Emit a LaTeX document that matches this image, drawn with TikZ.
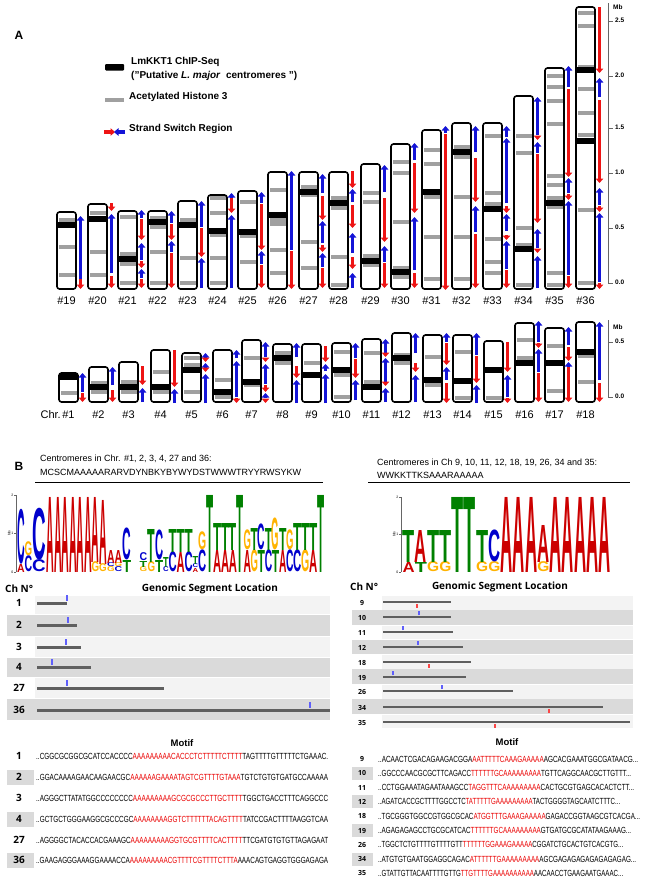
\documentclass[tikz,border=0pt]{standalone}
\usepackage{fontspec}
\setmainfont{Liberation Sans}
\newfontfamily\tabfont{Open Sans}
\usepackage{graphicx}
\usetikzlibrary{arrows.meta}
\definecolor{cA}{RGB}{204,0,0}
\definecolor{cC}{RGB}{0,0,204}
\definecolor{cG}{RGB}{255,179,0}
\definecolor{cT}{RGB}{0,128,0}
\definecolor{ssr}{RGB}{238,20,20}
\definecolor{ssb}{RGB}{20,20,215}
\definecolor{band}{RGB}{160,160,160}
\definecolor{rowlight}{RGB}{243,243,243}
\definecolor{rowdark}{RGB}{218,218,218}
\definecolor{bargray}{RGB}{95,95,95}
\definecolor{seqred}{RGB}{235,0,0}
\definecolor{tickblue}{RGB}{95,95,250}
\definecolor{tickred}{RGB}{250,70,70}

\newcommand{\chromo}[8]{%
  \fill[white,rounded corners=2.5pt] (#1,#2) rectangle (#1+19,#3);
  \foreach \gy in {#4} {\fill[band] (#1+1.5,\gy-1.6) rectangle (#1+17.5,\gy+1.6);}
  \foreach \ky in {#5} {\fill[black] (#1+1,\ky-2.6) rectangle (#1+18,\ky+2.6);}
  \draw[chrbox] (#1,#2) rectangle (#1+19,#3);
  \foreach \scol/\stail/\shead in {#6} {\draw[ssarrow,draw=ss\scol] (#1+23.5,\stail) -- (#1+23.5,\shead);}
  \node[chrlab] (chr#7) at (#1+9.5,#8) {\##7};
}
\newcommand{\lcol}[4]{%
  \xdef\ycur{#3}%
  \pgfmathsetmacro\lwid{#2+0.6}%
  \foreach \lL/\lC/\lH in {#4}{%
    \node[inner sep=0pt,outer sep=0pt,anchor=south west,text=\lC] at (#1-0.3,\ycur) {\resizebox*{\lwid pt}{\lH pt}{\bfseries \lL}};%
    \pgfmathsetmacro\ynew{\ycur-\lH}\xdef\ycur{\ynew}%
  }}
\newcommand{\seqrow}[6]{\node[inner sep=0pt,anchor=west] (#6) at (#1) {\resizebox{#2pt}{6.2pt}{#3\textcolor{seqred}{#4}#5}};}

\begin{document}
\begin{tikzpicture}[x=1pt,y=-1pt,
  chrbox/.style={draw=black,line width=1.6pt,rounded corners=2.5pt},
  ssarrow/.style={line width=3.2pt,-{Triangle[width=7.5pt,length=4.5pt]}},
  chrlab/.style={inner sep=0pt,font=\fontsize{11}{13}\selectfont},
  axl/.style={inner sep=0pt,anchor=west,font=\bfseries\fontsize{6.5}{8}\selectfont},
  axisln/.style={draw=black!60,line width=0.8pt},
  legtxt/.style={inner sep=0pt,anchor=west,font=\bfseries\fontsize{10}{12}\selectfont},
  captxt/.style={inner sep=0pt,anchor=west,font=\fontsize{9}{11}\selectfont},
  hdr/.style={inner sep=0pt,font=\tabfont\bfseries\fontsize{10}{12}\selectfont},
  tabnum/.style={inner sep=0pt,font=\tabfont\bfseries\fontsize{10}{12}\selectfont},
  tabnums/.style={inner sep=0pt,font=\tabfont\bfseries\fontsize{7}{8}\selectfont},
  segbar/.style={draw=bargray,line width=3pt},
  segbars/.style={draw=bargray,line width=2.2pt},
  tickln/.style={line width=1.2pt},
  tinytxt/.style={inner sep=0pt,font=\fontsize{3.5}{4}\selectfont}]
\useasboundingbox (0,0) rectangle (649,886);
\fill[white] (0,0) rectangle (649,886);

% ---------- Panel A ----------
\node[inner sep=0pt,font=\bfseries\fontsize{12}{14}\selectfont] (pA) at (19,35) {A};
\fill[black,rounded corners=1pt] (105,64) rectangle (124,70.5);
\node[legtxt] (l1) at (131,62) {LmKKT1 ChIP-Seq};
\node[legtxt] (l2) at (131,76) {(\char34 Putative \textit{L. major}\ \ centromeres \char34)};
\fill[band] (105,98) rectangle (124,102);
\node[legtxt] (l3) at (129,97) {Acetylated Histone 3};
\draw[ssarrow,draw=ssr] (104,132) -- (115,132);
\draw[ssarrow,draw=ssb] (125,132) -- (114,132);
\node[legtxt] (l4) at (129,129) {Strand Switch Region};

% top row chromosomes
\chromo{57}{212}{289}{220,247,275}{225}{b/279/216,r/279/289}{19}{301}
\chromo{88}{204}{289}{213,252,275}{219}{r/203/211,b/273/214,r/276/288}{20}{301}
\chromo{118}{211}{289}{217,254,264,283}{259}{b/218/210,r/219/240,b/260/243,r/261/268,b/278/269,r/279/288}{21}{301}
\chromo{148}{211}{289}{218,227,252,283}{222}{b/223/211,r/224/240,b/252/241,r/253/288}{22}{301}
\chromo{178}{201}{289}{220,258,283}{225}{b/227/201,r/228/257,b/288/258}{23}{301}
\chromo{208}{195}{289}{198,213,235,258,283}{231}{b/197/193,r/198/213,b/288/215}{24}{301}
\chromo{238}{191}{289}{202,236,262}{232}{b/203/192,r/204/250,b/264/251,r/265/288}{25}{301}
\chromo{268}{172}{289}{190,220,224,250,273}{215}{b/250/171,r/251/289}{26}{301}
\chromo{299}{172}{289}{187,195,242,268}{192}{b/193/174,r/196/220,b/243/221,r/245/252,b/267/253,r/268/288}{27}{301}
\chromo{329}{172}{289}{198,208,257,285}{203}{r/171/188,b/202/189,r/205/228,b/253/233,r/257/269,b/288/273}{28}{301}
\chromo{361}{164}{289}{193,202,256,265}{261}{b/192/165,r/198/242,b/262/246,r/263/288}{29}{301}
\chromo{391}{144}{289}{162,173,222,268,277}{272}{b/160/143,r/163/213,b/270/217,r/273/288}{30}{301}
\chromo{422}{130}{289}{150,164,197,237,279}{192}{b/133/126,r/134/290}{31}{301}
\chromo{452}{123}{289}{147,157,197,237,279}{152}{b/152/126,r/158/202,b/232/206,r/234/288}{32}{301}
\chromo{483}{123}{289}{136,193,204,239,262,273}{209}{b/137/126,b/203/138,r/206/213,b/231/214,r/235/240,b/269/241,r/270/288}{33}{301}
\chromo{514}{96}{289}{136,153,228,245,285}{249}{b/135/97,r/137/140,b/153/142,r/154/223,b/248/229,r/249/253,b/288/256}{34}{301}
\chromo{545}{68}{289}{76,87,101,124,176,185,198,207,273,285}{203}{b/87/66,r/89/177,b/193/178,r/194/200,b/275/201,r/276/288}{35}{301}
\chromo{576}{7}{289}{13,26,67,89,113,135,210,283}{70,141}{r/7/73,b/97/78,r/100/183,b/205/188,r/206/212,b/282/213,r/283/289}{36}{301}

% top axis
\draw[axisln] (608,3) -- (608,283);
\foreach \ty/\tl in {283/0.0,228/0.5,173/1.0,128/1.5,76/2.0,21/2.5} {
  \draw[axisln] (608,\ty) -- (613,\ty);
  \node[axl] at (615,\ty-1) {\tl};
}
\node[axl] (mb1) at (613,7) {Mb};

% bottom row chromosomes
\chromo{59}{373}{402}{393}{377}{b/392/373,r/393/402}{1}{415}
\chromo{89}{367}{402}{383,392}{387}{b/385/367,r/390/402}{2}{415}
\chromo{119}{362}{402}{382,392}{387}{r/366/385,b/402/388}{3}{415}
\chromo{151}{350}{402}{372,392}{387}{r/350/387,b/403/389}{4}{415}
\chromo{182}{353}{402}{358,365,392}{370}{b/357/353,r/358/362,b/367/363,r/368/372,b/403/374}{5}{415}
\chromo{213}{350}{402}{380,397}{392}{b/358/350,b/397/361,r/398/403}{6}{415}
\chromo{242}{340}{402}{358,385}{382}{b/357/342,r/358/362,b/384/364,r/385/392,b/398/393,r/399/403}{7}{415}
\chromo{273}{344}{402}{353,363}{358}{b/357/343,r/366/378,b/403/380}{8}{415}
\chromo{302}{344}{402}{363}{375}{r/346/362,b/371/364,b/403/374}{9}{415}
\chromo{332}{343}{402}{352,375,397}{370}{b/358/343,r/359/378,b/400/380}{10}{415}
\chromo{362}{339}{402}{353,382}{387}{b/353/339,r/354/357,b/382/358,r/383/386,b/402/388}{11}{415}
\chromo{392}{333}{402}{355,363}{358}{b/353/333,r/363/372,b/402/375}{12}{415}
\chromo{423}{335}{402}{357,385}{380}{b/342/333,r/343/365,b/380/367,r/383/403}{13}{415}
\chromo{453}{335}{402}{352,398}{381}{b/355/333,r/356/383,b/403/385}{14}{415}
\chromo{484}{341}{402}{398}{370}{r/342/372,b/397/375,r/398/403}{15}{415}
\chromo{515}{323}{402}{340,358}{363}{b/342/321,r/343/348,b/372/349,r/373/402}{16}{415}
\chromo{545}{328}{402}{346,391}{363}{b/345/327,r/347/361,b/366/362,r/367/402}{17}{415}
\chromo{576}{322}{402}{356,382}{352}{b/380/322,r/383/402}{18}{415}
\node[chrlab,anchor=east] (chrtxt) at (61,415) {Chr.};

% bottom axis
\draw[axisln] (608,320) -- (608,397);
\foreach \ty/\tl in {397/0.0,342/0.5} {
  \draw[axisln] (608,\ty) -- (613,\ty);
  \node[axl] at (615,\ty-1) {\tl};
}
\node[axl] (mb2) at (613,327) {Mb};

% ---------- Panel B ----------
\node[inner sep=0pt,font=\bfseries\fontsize{12}{14}\selectfont] (pB) at (19,466) {B};
\node[captxt] (c1) at (40,459) {Centromeres in Chr. \#1, 2, 3, 4, 27 and 36:};
\node[captxt] (c2) at (40,472) {MCSCMAAAAARARVDYNBKYBYWYDSTWWWTRYYRWSYKW};
\draw[line width=0.8pt] (35,482) -- (323,482);
\node[captxt] (c3) at (377,463) {Centromeres in Ch 9, 10, 11, 12, 18, 19, 26, 34 and 35:};
\node[captxt] (c4) at (377,475) {WWKKTTKSAAARAAAAA};
\draw[line width=0.8pt] (368,482) -- (630,482);

% logo axes
\draw[black!60,line width=0.5pt] (16,495) -- (16,572);
\foreach \ly/\ll in {495/2,533/1,572/0} {\draw[black!60,line width=0.5pt] (14,\ly) -- (16,\ly); \node[tinytxt,anchor=east] at (13.5,\ly) {\ll};}
\node[tinytxt,rotate=90] (bits1) at (9,533) {bits};
\draw[black!60,line width=0.5pt] (401,497) -- (401,572);
\foreach \ly/\ll in {497/2,534/1,572/0} {\draw[black!60,line width=0.5pt] (399,\ly) -- (401,\ly); \node[tinytxt,anchor=east] at (398.5,\ly) {\ll};}
\node[tinytxt,rotate=90] (bits2) at (394,534) {bits};

% logo 1
\lcol{17.5}{7}{572}{A/cA/8,C/cC/55}
\lcol{25}{7}{572}{C/cC/16,G/cG/14}
\lcol{32.5}{13}{572}{C/cC/12,C/cC/52}
\lcol{47}{7}{572}{A/cA/75}
\lcol{54.5}{7}{572}{A/cA/75}
\lcol{62}{7}{572}{A/cA/75}
\lcol{69.5}{7}{572}{A/cA/75}
\lcol{77}{7}{572}{A/cA/75}
\lcol{84.5}{7}{572}{A/cA/75}
\lcol{92}{7}{572}{G/cG/10,A/cA/65}
\lcol{99.5}{7}{572}{G/cG/8,A/cA/64}
\lcol{107.5}{7}{572}{G/cG/5,C/cC/4,A/cA/13}
\lcol{115}{7}{572}{C/cC/5,G/cG/4,A/cA/13}
\lcol{123}{8}{572}{T/cT/12,C/cC/32}
\lcol{140}{7}{572}{G/cG/5,T/cT/6,C/cC/8}
\lcol{148}{7}{572}{G/cG/10,T/cT/33}
\lcol{155.5}{7.5}{572}{T/cT/12,C/cC/30}
\lcol{163.5}{5}{572}{C/cC/5,T/cT/10}
\lcol{169}{7.5}{572}{C/cC/20,T/cT/23}
\lcol{177}{7.5}{572}{A/cA/20,T/cT/23}
\lcol{185}{7.5}{572}{C/cC/20,T/cT/23}
\lcol{193}{5}{572}{A/cA/4,C/cC/4,T/cT/8}
\lcol{198.5}{7.5}{572}{C/cC/22,G/cG/18}
\lcol{206.5}{6.5}{572}{T/cT/77}
\lcol{213.5}{7.5}{572}{A/cA/22,T/cT/27}
\lcol{221.3}{7.5}{572}{A/cA/22,T/cT/27}
\lcol{229.1}{7.5}{572}{A/cA/22,T/cT/27}
\lcol{237}{6.5}{572}{T/cT/77}
\lcol{243.8}{6.8}{572}{A/cA/22,G/cG/20}
\lcol{250.9}{6.8}{572}{G/cG/22,T/cT/22}
\lcol{258}{6.8}{572}{T/cT/22,C/cC/26}
\lcol{265.1}{6.8}{572}{C/cC/22,T/cT/22}
\lcol{272.2}{6.8}{572}{T/cT/22,G/cG/32}
\lcol{279.3}{6.8}{572}{A/cA/22,T/cT/22}
\lcol{286.4}{6.8}{572}{C/cC/22,G/cG/20}
\lcol{293.5}{7.6}{572}{C/cC/22,T/cT/27}
\lcol{301.5}{7.6}{572}{G/cG/22,T/cT/27}
\lcol{309.5}{7.6}{572}{A/cA/22,T/cT/27}
\lcol{317.3}{6.5}{572}{T/cT/77}

% logo 2
\lcol{403}{11.5}{572}{A/cA/10,T/cT/32}
\lcol{415.25}{11.5}{572}{T/cT/10,A/cA/32}
\lcol{427.5}{11.5}{572}{G/cG/10,T/cT/32}
\lcol{439.75}{11.5}{572}{G/cG/10,T/cT/32}
\lcol{452}{11.5}{572}{T/cT/75}
\lcol{464.25}{11.5}{572}{T/cT/75}
\lcol{476.5}{11.5}{572}{G/cG/10,T/cT/32}
\lcol{488.75}{11.5}{572}{G/cG/10,C/cC/32}
\lcol{501}{11.5}{572}{A/cA/75}
\lcol{513.25}{11.5}{572}{A/cA/75}
\lcol{525.5}{11.5}{572}{A/cA/75}
\lcol{537.75}{11.5}{572}{G/cG/10,A/cA/37}
\lcol{550}{11.5}{572}{A/cA/75}
\lcol{562.25}{11.5}{572}{A/cA/75}
\lcol{574.5}{11.5}{572}{A/cA/75}
\lcol{586.75}{11.5}{572}{A/cA/75}
\lcol{599}{11.5}{572}{A/cA/75}

% left table
\node[hdr,anchor=west] (h1) at (5,589) {Ch N°};
\node[hdr] (h2) at (210,589) {Genomic Segment Location};
\foreach \rt/\rb/\lc/\rc/\rl/\be/\by/\tx in {
 596/614/white/rowlight/1/67/603/67,
 615/636/rowdark/rowdark/2/77/625/68,
 637/657/white/rowlight/3/81/647/66,
 658/677/rowdark/rowdark/4/91/667/52,
 678/698/white/rowlight/27/164/688/67,
 699/720/rowdark/rowdark/36/330/710/310}{
 \fill[fill=\lc] (7,\rt) rectangle (35,\rb);
 \fill[fill=\rc] (35,\rt) rectangle (330,\rb);
 \node[tabnum] (lt\rl) at (19,\by) {\rl};
 \draw[segbar] (37,\by) -- (\be,\by);
 \draw[tickln,draw=tickblue] (\tx,\by-8) -- (\tx,\by-2.5);
}

% right table
\node[hdr,anchor=west] (h3) at (350,587) {Ch N°};
\node[hdr] (h4) at (500,587) {Genomic Segment Location};
\foreach \rt/\rb/\lc/\rc/\rl/\be/\by/\tx/\tk/\td in {
 596/609.5/white/rowlight/9/451/602/417/tickred/1,
 610/625/rowdark/rowdark/10/451/617/419/tickblue/-1,
 625.5/639/white/rowlight/11/453/632/403/tickblue/-1,
 639.5/654/rowdark/rowdark/12/463/647/418/tickblue/-1,
 654.5/668.5/white/rowlight/18/471/662/429/tickred/1,
 669/684/rowdark/rowdark/19/466/677/393/tickblue/-1,
 684.5/698.5/white/rowlight/26/513/691/442/tickblue/-1,
 699/714/rowdark/rowdark/34/603/707/549/tickred/1,
 714.5/728/white/rowlight/35/630/722/495/tickred/1}{
 \fill[fill=\lc] (352,\rt) rectangle (382,\rb);
 \fill[fill=\rc] (382,\rt) rectangle (633,\rb);
 \node[tabnums] (rt\rl) at (362,\by+0.5) {\rl};
 \draw[segbars] (383,\by) -- (\be,\by);
 \draw[tickln,draw=\tk] (\tx,\by+2*\td) -- (\tx,\by+6*\td);
}

% motif lists
\node[inner sep=0pt,font=\bfseries\fontsize{9.5}{11}\selectfont] (m1) at (182,743) {Motif};
\node[inner sep=0pt,font=\bfseries\fontsize{9.5}{11}\selectfont] (m2) at (507,742) {Motif};
\foreach \my/\ml/\mc in {756/1/white,777/2/rowdark,798/3/white,819/4/rowdark,840/27/white,860/36/rowdark}{
  \fill[fill=\mc] (7,\my-7.5) rectangle (34,\my+7.5);
  \node[tabnum] (ml\ml) at (19,\my) {\ml};
}
\seqrow{36,756}{292}{..CGGCGCGGCGCATCCACCCC}{AAAAAAAAACACCCTCTTTTTCTTTT}{TAGTTTTGTTTTTCTGAAAC.}{s1}
\seqrow{36,777}{292}{..GGACAAAAGAACAAGAACGC}{AAAAAAGAAAATAGTCGTTTTGTAAA}{TGTCTGTGTGATGCCAAAAA}{s2}
\seqrow{36,798}{292}{..AGGGCTTATATGGCCCCCCCC}{AAAAAAAAAGCGCGCCCTTGCTTTT}{TGGCTGACCTTTCAGGCCC}{s3}
\seqrow{36,819}{292}{..GCTGCTGGGAAGGCGCCCGC}{AAAAAAAAGGTCTTTTTTACAGTTTT}{TATCCGACTTTTAAGGTCAA}{s4}
\seqrow{36,840}{292}{..AGGGGCTACACCACGAAAGC}{AAAAAAAAAGGTGCGTTTTCACTTTT}{TTCGATGTGTGTTAGAGAAT}{s27}
\seqrow{36,860}{292}{..GAAGAGGGAAAGGAAAACCA}{AAAAAAAAACGTTTTCGTTTTCTTTA}{AAACAGTGAGGTGGGAGAGA}{s36}

\foreach \my/\ml/\mc in {759/9/white,773.3/10/rowdark,787.6/11/white,801.9/12/rowdark,816.2/18/white,830.5/19/rowdark,844.8/26/white,859.1/34/rowdark,873.4/35/white}{
  \fill[fill=\mc] (352,\my-6.5) rectangle (373,\my+6.5);
  \node[tabnums] (mr\ml) at (362,\my) {\ml};
}
\seqrow{378,759}{260}{..ACAACTCGACAGAAGACGGA}{AATTTTTCAAAGAAAAA}{AGCACGAAATGGCGATAACG...}{s9}
\seqrow{378,773.3}{253}{..GGCCCAACGCGCTTCAGACC}{TTTTTTGCAAAAAAAAA}{TGTTCAGGCAACGCTTGTTT...}{s10}
\seqrow{378,787.6}{256}{..CCTGGAAATAGAATAAAGCC}{TAGGTTTCAAAAAAAAA}{CACTGCGTGAGCACACTCTT...}{s11}
\seqrow{378,801.9}{242}{..AGATCACCGCTTTTGGCCTC}{TATTTTTGAAAAAAAAA}{TACTGGGGTAGCAATCTTTC...}{s12}
\seqrow{378,816.2}{262}{..TGCGGGTGGCCGTGGCGCAC}{ATGGTTTGAAAGAAAAA}{GAGACCGGTAAGCGTCACGA...}{s18}
\seqrow{378,830.5}{253}{..AGAGAGAGCCTGCGCATCAC}{TTTTTTGCAAAAAAAAA}{GTGATGCGCATATAAGAAAG...}{s19}
\seqrow{378,844.8}{245}{..TGGCTCTGTTTTGTTTTGTT}{TTTTTTGGAAAGAAAAA}{CGGATCTGCACTGTCACGTG...}{s26}
\seqrow{378,859.1}{258}{..ATGTGTGAATGGAGGCAGAC}{ATTTTTTGAAAAAAAAA}{AGCGAGAGAGAGAGAGAGAG...}{s34}
\seqrow{378,873.4}{245}{..GTATTGTTACAATTTTGTTG}{TTGTTTTGAAAAAAAAAA}{AACAACCTGAAGAATGAAAC...}{s35}
\end{tikzpicture}
\end{document}
